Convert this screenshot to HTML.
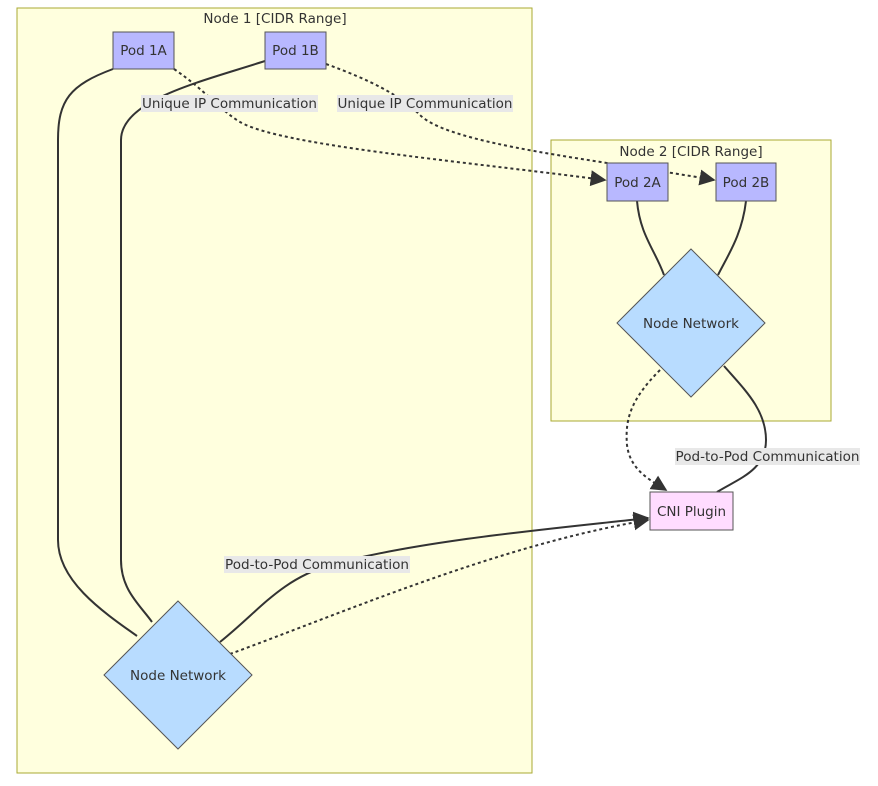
<!DOCTYPE html>
<html><head><style>
html,body{margin:0;padding:0;background:#fff;}
svg{display:block;font-family:"DejaVu Sans","Liberation Sans",sans-serif;}
text{fill:#333;font-size:13.5px;}
</style></head><body>
<svg width="878" height="786" viewBox="0 0 878 786" xmlns="http://www.w3.org/2000/svg">
<defs>
<marker id="a" viewBox="0 0 10 10" refX="9" refY="5" markerWidth="8" markerHeight="8" orient="auto"><path d="M0,0L10,5L0,10z" fill="#333"/></marker>
</defs>
<rect x="17" y="8" width="515" height="765" fill="#ffffde" stroke="#aaaa33"/>
<text x="275" y="23" text-anchor="middle">Node 1 [CIDR Range]</text>
<rect x="551" y="140" width="280" height="281" fill="#ffffde" stroke="#aaaa33"/>
<text x="691" y="156" text-anchor="middle">Node 2 [CIDR Range]</text>
<g fill="none" stroke="#333" stroke-width="2">
<path d="M113,69 C70,85 58,100 58,140 L58,540 C58,580 100,610 137,636"/>
<path d="M265,61 C200,82 121,100 121,140 L121,560 C121,590 140,605 152,622"/>
<path d="M637,201 C640,235 655,250 664,275"/>
<path d="M746,201 C742,235 728,255 718,275"/>
<path d="M724,366 C745,390 766,410 766,440 C766,470 740,478 717,492"/>
<path d="M220,642 C260,610 280,580 330,565 C420,540 560,528 648,518" marker-end="url(#a)"/>
</g>
<g fill="none" stroke="#333" stroke-width="2" stroke-dasharray="3,3">
<path d="M174,69 C205,90 220,110 240,122 C280,145 450,160 605,180" marker-end="url(#a)"/>
<path d="M326,64 C370,80 400,95 420,115 C450,145 600,160 714,180" marker-end="url(#a)"/>
<path d="M660,370 C630,400 625,420 627,445 C630,470 650,480 666,490" marker-end="url(#a)"/>
<path d="M230,654 C350,610 500,545 648,520" marker-end="url(#a)"/>
</g>
<rect x="113" y="32" width="61" height="37" fill="#b8b8ff" stroke="#555"/>
<text x="143.5" y="55" text-anchor="middle">Pod 1A</text>
<rect x="265" y="32" width="61" height="37" fill="#b8b8ff" stroke="#555"/>
<text x="295.5" y="55" text-anchor="middle">Pod 1B</text>
<rect x="607" y="163" width="61" height="38" fill="#b8b8ff" stroke="#555"/>
<text x="637.5" y="187" text-anchor="middle">Pod 2A</text>
<rect x="716" y="163" width="60" height="38" fill="#b8b8ff" stroke="#555"/>
<text x="746" y="187" text-anchor="middle">Pod 2B</text>
<polygon points="691,249 765,323 691,397 617,323" fill="#b8dcff" stroke="#555"/>
<text x="691" y="328" text-anchor="middle">Node Network</text>
<polygon points="178,601 252,675 178,749 104,675" fill="#b8dcff" stroke="#555"/>
<text x="178" y="680" text-anchor="middle">Node Network</text>
<rect x="650" y="492" width="83" height="38" fill="#ffdcff" stroke="#555"/>
<text x="691.5" y="516" text-anchor="middle">CNI Plugin</text>
<rect x="141" y="95" width="177" height="17" fill="#e8e8e8"/>
<text x="229.5" y="108" text-anchor="middle" textLength="175" lengthAdjust="spacingAndGlyphs">Unique IP Communication</text>
<rect x="337" y="95" width="176" height="17" fill="#e8e8e8"/>
<text x="425" y="108" text-anchor="middle" textLength="175" lengthAdjust="spacingAndGlyphs">Unique IP Communication</text>
<rect x="224" y="556" width="186" height="17" fill="#e8e8e8"/>
<text x="317" y="569" text-anchor="middle" textLength="184" lengthAdjust="spacingAndGlyphs">Pod-to-Pod Communication</text>
<rect x="675" y="448" width="185" height="17" fill="#e8e8e8"/>
<text x="767.5" y="461" text-anchor="middle" textLength="184" lengthAdjust="spacingAndGlyphs">Pod-to-Pod Communication</text>
</svg>
</body></html>
